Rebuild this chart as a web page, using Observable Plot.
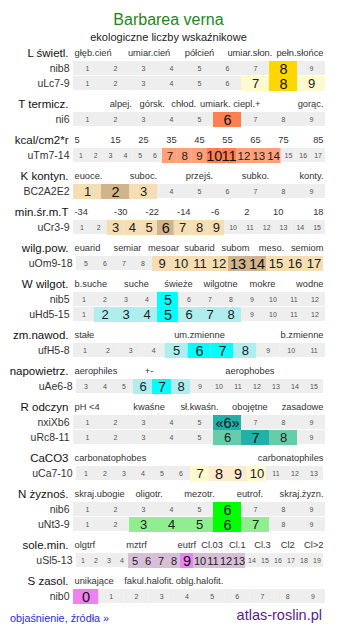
<!DOCTYPE html>
<html><head><meta charset="utf-8">
<script src="https://cdn.jsdelivr.net/npm/d3@7"></script>
<script src="https://cdn.jsdelivr.net/npm/@observablehq/plot@0.6"></script>
<style>
body{margin:0;background:#fff;font-family:"Liberation Sans",Arial,sans-serif;width:337px;}
#title{padding-top:9.5px;height:20.5px;font-size:16px;line-height:20px;color:#1e861e;text-align:center;}
#sub{height:15px;font-size:11px;line-height:14px;color:#222;text-align:center;}
#chart svg{display:block;}
#chart svg, #chart svg text{font-family:"Liberation Sans",Arial,sans-serif !important;}
#foot{position:relative;height:27px;}
#foot .l{position:absolute;left:10px;top:5px;font-size:10.8px;line-height:13px;color:#2a2ae6;}
#foot .r{position:absolute;right:15px;top:0px;font-size:14.5px;line-height:17px;color:#5b1a8e;}
</style></head><body>
<div id="title">Barbarea verna</div>
<div id="sub">ekologiczne liczby wskaźnikowe</div>
<div id="chart"></div>
<div id="foot"><span class="l">objaśnienie, źródła »</span><span class="r">atlas-roslin.pl</span></div>
<script>
// ---- data ----
const sectionNames = ["L świetl.","T termicz.","kcal/cm2*r","K kontyn.","min.śr.m.T","wilg.pow.","W wilgot.","zm.nawod.","napowietrz.","R odczyn","CaCO3","N żyznoś.","sole.min.","S zasol."];
const sectionTicks = [
  ["głęb.cień","umiar.cień","półcień","umiar.słon.","pełn.słońce"],
  ["","alpej.","górsk.","chłod.","umiark.","ciepl.+","","gorąc."],
  ["5","15","25","35","45","55","65","75","85"],
  ["euoce.","","suboc.","","przejś.","","subko.","","konty."],
  ["-34","-30","-22","-14","-6","2","10","18"],
  ["euarid","semiar","mesoar","subarid","subom","meso.","semiom"],
  ["b.suche","suche","świeże","wilgotne","mokre","wodne"],
  ["stałe","um.zmienne","b.zmienne"],
  ["aerophiles","+-","","aerophobes",""],
  ["pH <4","kwaśne","sł.kwaśn.","obojętne","zasadowe"],
  ["carbonatophobes","carbonatophiles"],
  ["skraj.ubogie","oligotr.","mezotr.","eutrof.","skraj.żyzn."],
  ["olgtrf","","mztrf","","eutrf","Cl.03","Cl.1","Cl.3","Cl2","Cl>2"],
  ["unikające","fakul.halofit.","oblg.halofit.","",""]
];
const rowSection = [0,0,1,2,3,4,5,6,6,7,8,9,9,10,11,11,12,13];
const rowNames = ["nib8","uLc7-9","ni6","uTm7-14","BC2A2E2","uCr3-9","uOm9-18","nib5","uHd5-15","ufH5-8","uAe6-8","nxiXb6","uRc8-11","uCa7-10","nib6","uNt3-9","uSl5-13","nib0"];
const rowFirst = [1,1,1,1,1,1,5,1,1,1,3,1,1,1,1,1,1,0];
const rowLast  = [9,9,9,17,9,15,17,12,12,11,15,9,9,13,9,9,19,9];
const rowLight = [[],[7,9],[],[7,8,9,12,13,14],[1,3],[3,4,5,7,8,9],[9,10,11,12,15,16,17],[],[2,3,4,6,7,8],[5,8],[6,8],[],[6,8],[7,10],[],[3,4,5,7],[5,6,7,8,10,11,12,13],[]];
const rowStrong = [[8],[8],[6],[10,11],[2],[6],[13,14],[5],[5],[6,7],[7],[6],[7],[8,9],[6],[6],[9],[0]];
const uncertainRows = ["nxiXb6"];

// ---- styles ----
const strongColor = ["#ffd700","#ff7f50","#ff7f50","#d2b48c","#d2b48c","#d2b48c","#00ffff","#00ffff","#00ffff","#20b2aa","#ffebcd","#00ff00","#ee82ee","#ee82ee"];
const lightColor  = ["#fffacd","#ffa07a","#ffa07a","#f5deb3","#f5deb3","#f5deb3","#afeeee","#afeeee","#afeeee","#66cdaa","#fffacd","#90ee90","#d8bfd8","#d8bfd8"];
const HEAD = 8/15, TAIL = 13/15, PX = 15, H = 562, WPX = 252;

// ---- layout (in row units) ----
const secY = [];
let cur = 0;
sectionNames.forEach((s, i) => {
  secY.push(cur);
  cur += HEAD + rowSection.filter(r => r === i).length + TAIL;
});
const cells = [], rowsInfo = [];
rowNames.forEach((name, r) => {
  const s = rowSection[r];
  const k = rowSection.slice(0, r).filter(x => x === s).length;
  const top = secY[s] + HEAD + k;
  const n = rowLast[r] - rowFirst[r] + 1;
  const narrow = n === 13 || n === 19;
  const lo = narrow ? 3 / WPX : 0, hi = narrow ? 250 / WPX : 1;
  const w = (hi - lo) / n;
  rowsInfo.push({name, x: lo, y: top + 0.5});
  for (let v = rowFirst[r]; v <= rowLast[r]; v++) {
    const i = v - rowFirst[r];
    const level = rowStrong[r].includes(v) ? "strong" : rowLight[r].includes(v) ? "light" : "none";
    cells.push({
      row: name, v, level,
      x1: lo + i * w, x2: lo + (i + 1) * w, y1: top, y2: top + 1, yc: top + 0.5,
      fill: level === "strong" ? strongColor[s] : level === "light" ? lightColor[s] : "#eeeeee",
      label: level === "strong" && uncertainRows.includes(name) ? `«${v}»` : String(v),
      cw: w * WPX
    });
  }
});
const ticks = [];
sectionTicks.forEach((arr, s) => {
  const m = arr.length;
  arr.forEach((t, k) => {
    if (!t) return;
    const anchor = k === 0 ? "start" : k === m - 1 ? "end" : "middle";
    ticks.push({t, anchor, y: secY[s], x: k === 0 ? 0 : k === m - 1 ? 1 : (k + 0.5) / m});
  });
});
const secs = sectionNames.map((n, i) => ({n, y: secY[i]}));
const hl = cells.filter(d => d.level !== "none");
const txt = {fill: "#333", fontSize: 9.3};
const cx = d => (d.x1 + d.x2) / 2;

const chart = Plot.plot({
  width: 337, height: H, margin: 0,
  x: {domain: [0, 1], range: [73, 73 + WPX], axis: null},
  y: {domain: [-HEAD, H / PX - HEAD], range: [0, H], axis: null},
  color: {type: "identity"},
  style: {fontFamily: '"Liberation Sans", Arial, sans-serif', background: "white"},
  marks: [
    Plot.rect(cells, {x1: "x1", x2: "x2", y1: "y1", y2: "y2", fill: "#eeeeee", insetBottom: 1}),
    Plot.rect(hl, {x1: "x1", x2: "x2", y1: "y1", y2: "y2", fill: "fill"}),
    Plot.text(cells.filter(d => d.level === "none"), {x: cx, y: "yc", text: "label", fontSize: 7, fill: "#555"}),
    Plot.text(hl.filter(d => d.level === "light" && d.cw >= 16), {x: cx, y: "yc", text: "label", fontSize: 13, fill: "#222"}),
    Plot.text(hl.filter(d => d.level === "light" && d.cw < 16 && d.cw >= 14), {x: cx, y: "yc", text: "label", fontSize: 11.5, fill: "#222"}),
    Plot.text(hl.filter(d => d.level === "light" && d.cw < 14), {x: cx, y: "yc", text: "label", fontSize: 11, fill: "#222"}),
    Plot.text(hl.filter(d => d.level === "strong"), {x: cx, y: "yc", text: "label", fontSize: 14.5, fill: "#111"}),
    Plot.text(rowsInfo, {x: "x", y: "y", text: "name", textAnchor: "end", dx: -4, fontSize: 10.5, fill: "#333"}),
    Plot.text(secs, {x: 0, y: "y", text: "n", textAnchor: "end", dx: -5, fontSize: 11.5, fill: "#111"}),
    Plot.text(ticks.filter(d => d.anchor === "start"), {x: "x", y: "y", text: "t", textAnchor: "start", dx: 1, ...txt}),
    Plot.text(ticks.filter(d => d.anchor === "middle"), {x: "x", y: "y", text: "t", textAnchor: "middle", ...txt}),
    Plot.text(ticks.filter(d => d.anchor === "end"), {x: "x", y: "y", text: "t", textAnchor: "end", dx: -2, ...txt})
  ]
});
document.getElementById("chart").appendChild(chart);
</script>
</body></html>
